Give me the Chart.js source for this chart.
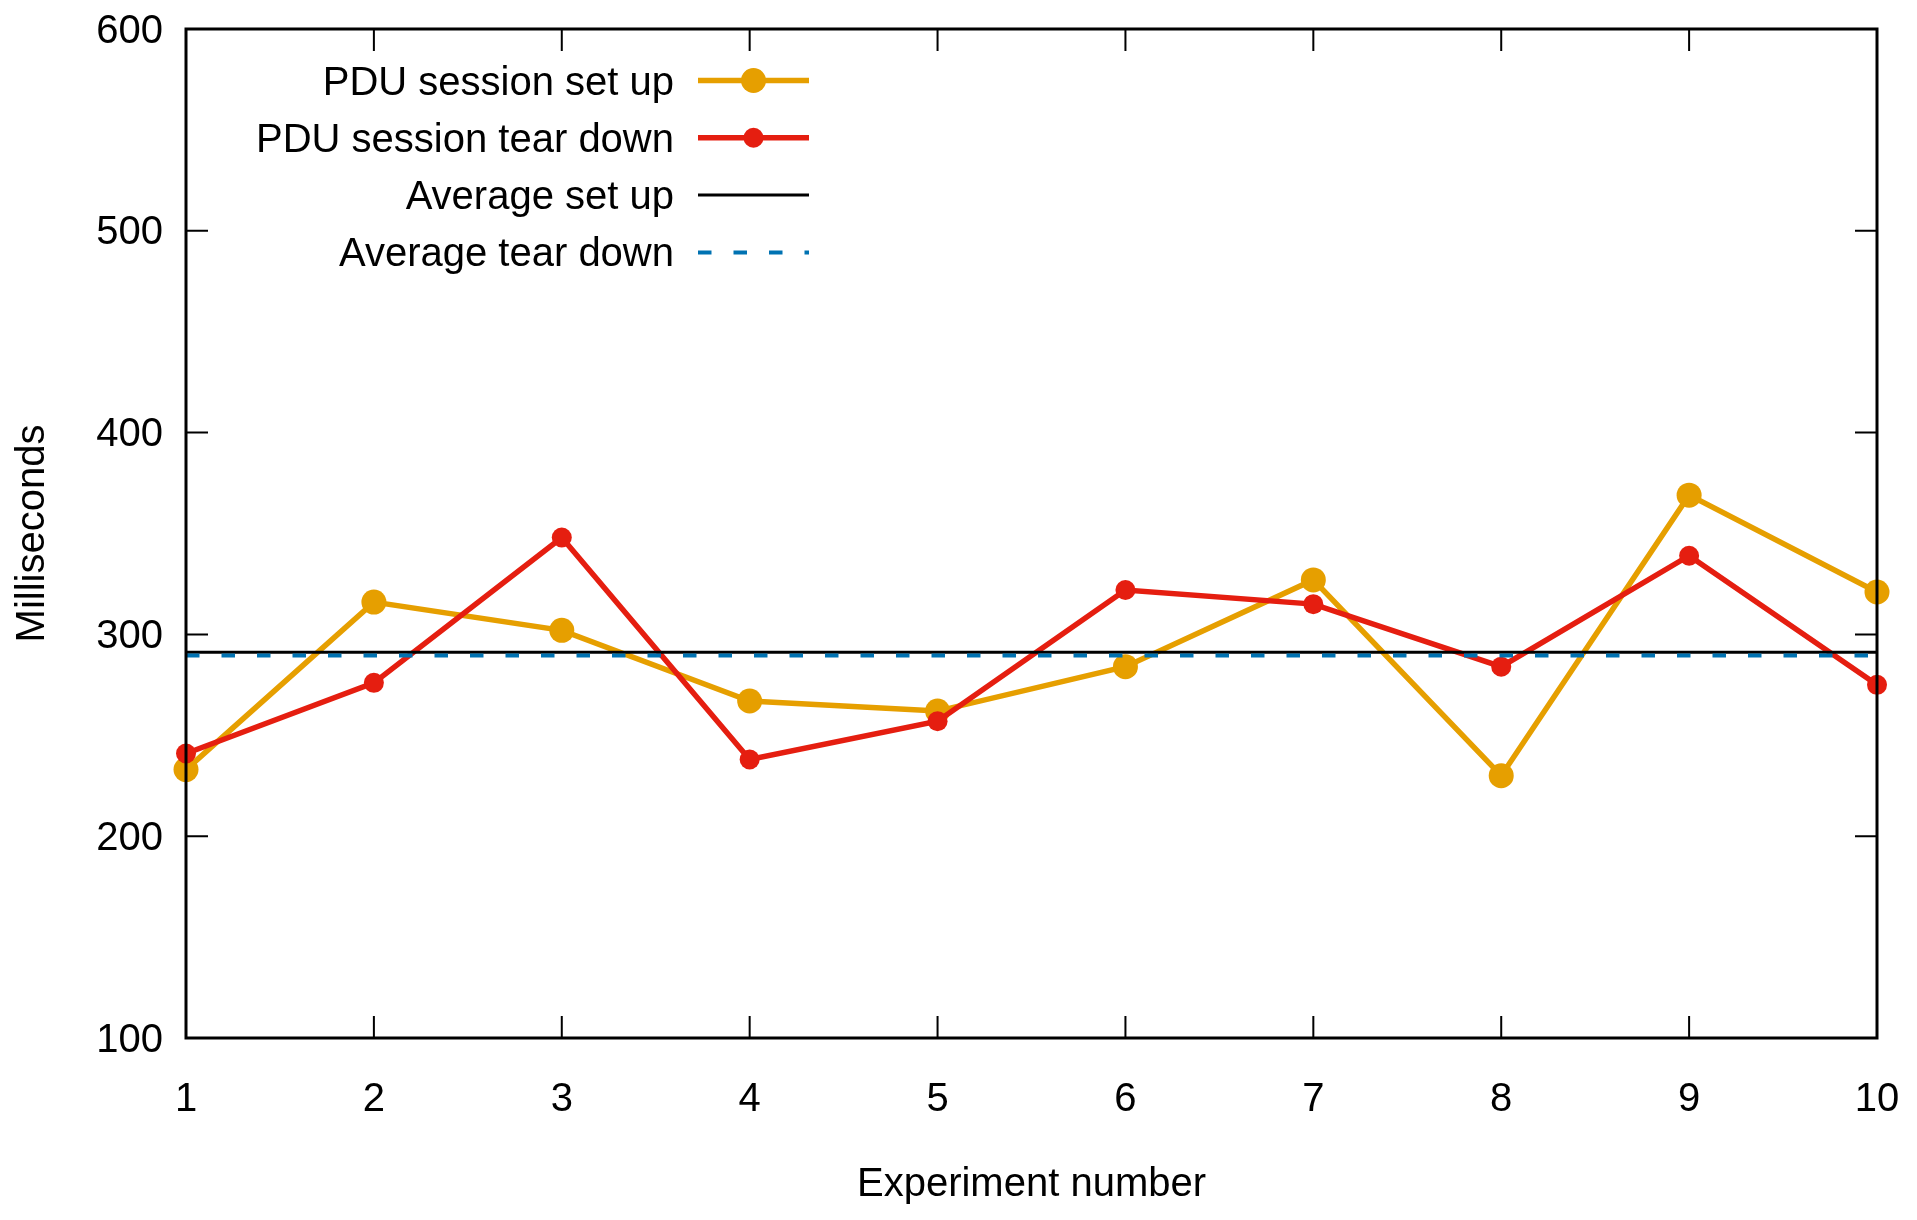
<!DOCTYPE html>
<html>
<head>
<meta charset="utf-8">
<script src="https://cdn.jsdelivr.net/npm/chart.js@4.4.1/dist/chart.umd.min.js"></script>
<style>
html, body { margin: 0; padding: 0; background: #fff; }
</style>
</head>
<body>
<canvas id="chart" width="1917" height="1220"></canvas>
<script>
// values
var experiments = [1, 2, 3, 4, 5, 6, 7, 8, 9, 10];
var setUp = [233, 316, 302, 267, 262, 284, 327, 230, 369, 321];
var tearDown = [241, 276, 348, 238, 257, 322, 315, 284, 339, 275];
var avgSetUp = 291.1;
var avgTearDown = 289.5;
var yTicks = [100, 200, 300, 400, 500, 600];

var ORANGE = '#e69f00', RED = '#e51e10', BLUE = '#0072b2';
var FONT = 'Liberation Sans, Arial, Helvetica, sans-serif';
var FS = 40;

function pts(ys) {
  return experiments.map(function (x, i) { return {x: x, y: ys[i]}; });
}
function flat(v) {
  return [{x: experiments[0], y: v}, {x: experiments[experiments.length - 1], y: v}];
}

// first dataset is drawn last (on top)
var datasets = [
  {label: 'Average tear down', data: flat(avgTearDown), borderColor: BLUE, borderWidth: 4,
   borderDash: [13.5, 22], pointRadius: 0, clip: false},
  {label: 'Average set up', data: flat(avgSetUp), borderColor: '#000', borderWidth: 3,
   pointRadius: 0, clip: false},
  {label: 'PDU session tear down', data: pts(tearDown), borderColor: RED, backgroundColor: RED,
   borderWidth: 5.5, pointRadius: 10, pointBorderWidth: 0, pointBackgroundColor: RED, clip: false},
  {label: 'PDU session set up', data: pts(setUp), borderColor: ORANGE, backgroundColor: ORANGE,
   borderWidth: 5.5, pointRadius: 12.5, pointBorderWidth: 0, pointBackgroundColor: ORANGE, clip: false}
];
var legendOrder = [3, 2, 1, 0];

var frameTicks = {
  id: 'frameTicks',
  afterDatasetsDraw: function (chart) {
    var ctx = chart.ctx, a = chart.chartArea;
    var xs = chart.scales.x, ys = chart.scales.y;
    var len = 22;
    ctx.save();
    ctx.strokeStyle = '#000';
    ctx.lineWidth = 2;
    ctx.beginPath();
    experiments.forEach(function (v) {
      var px = xs.getPixelForValue(v);
      ctx.moveTo(px, a.bottom); ctx.lineTo(px, a.bottom - len);
      ctx.moveTo(px, a.top); ctx.lineTo(px, a.top + len);
    });
    yTicks.forEach(function (v) {
      var py = ys.getPixelForValue(v);
      ctx.moveTo(a.left, py); ctx.lineTo(a.left + len, py);
      ctx.moveTo(a.right, py); ctx.lineTo(a.right - len, py);
    });
    ctx.stroke();
    ctx.lineWidth = 3;
    ctx.strokeRect(a.left, a.top, a.right - a.left, a.bottom - a.top);
    ctx.restore();
  },
  afterDraw: function (chart) {
    var ctx = chart.ctx;
    var textRight = 674, x0 = 698, x1 = 809, y0 = 82.5, dy = 57.3;
    ctx.save();
    ctx.font = FS + 'px ' + FONT;
    ctx.textAlign = 'right';
    ctx.textBaseline = 'middle';
    legendOrder.forEach(function (di, row) {
      var ds = chart.data.datasets[di];
      var y = y0 + row * dy;
      ctx.fillStyle = '#000';
      ctx.fillText(ds.label, textRight, y + 1);
      ctx.strokeStyle = ds.borderColor;
      ctx.lineWidth = ds.borderWidth;
      ctx.setLineDash(ds.borderDash || []);
      ctx.beginPath();
      ctx.moveTo(x0, y - 2); ctx.lineTo(x1, y - 2);
      ctx.stroke();
      ctx.setLineDash([]);
      if (ds.pointRadius) {
        ctx.fillStyle = ds.pointBackgroundColor;
        ctx.beginPath();
        ctx.arc((x0 + x1) / 2, y - 2, ds.pointRadius, 0, Math.PI * 2);
        ctx.fill();
      }
    });
    ctx.restore();
  }
};

new Chart(document.getElementById('chart').getContext('2d'), {
  type: 'line',
  data: {datasets: datasets},
  plugins: [frameTicks],
  options: {
    responsive: false,
    devicePixelRatio: 1,
    animation: false,
    events: [],
    layout: {padding: {top: 29, right: 40, left: 0, bottom: 0}},
    plugins: {legend: {display: false}, tooltip: {enabled: false}},
    scales: {
      x: {
        type: 'linear', min: 1, max: 10,
        afterBuildTicks: function (s) { s.ticks = experiments.map(function (v) { return {value: v}; }); },
        afterFit: function (s) { s.height = 182; s.paddingLeft = 0; s.paddingRight = 0; },
        grid: {display: false, drawTicks: false},
        border: {display: false},
        ticks: {color: '#000', font: {family: FONT, size: FS}, padding: 38, maxRotation: 0},
        title: {display: true, text: 'Experiment number', color: '#000',
                font: {family: FONT, size: FS}, padding: {top: 0, bottom: 11}}
      },
      y: {
        min: 100, max: 600,
        afterBuildTicks: function (s) { s.ticks = yTicks.map(function (v) { return {value: v}; }); },
        afterFit: function (s) { s.width = 186; s.paddingTop = 0; s.paddingBottom = 0; },
        grid: {display: false, drawTicks: false},
        border: {display: false},
        ticks: {color: '#000', font: {family: FONT, size: FS}, padding: 23, labelOffset: 2.5},
        title: {display: true, text: 'Milliseconds', color: '#000',
                font: {family: FONT, size: FS}, padding: {top: 9, bottom: 0}}
      }
    }
  }
});
</script>
</body>
</html>
